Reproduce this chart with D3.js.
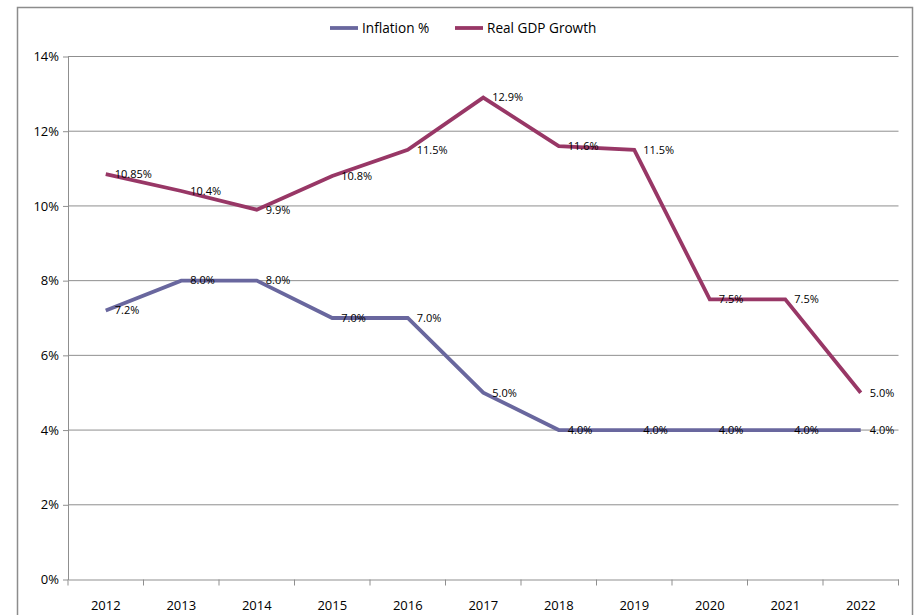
<!DOCTYPE html>
<html>
<head>
<meta charset="utf-8">
<script src="https://cdn.jsdelivr.net/npm/d3@7"></script>
<style>
  body { margin: 0; background: #fff; }
  text { font-family: "Open Sans", "Noto Sans", sans-serif; fill: #000; }
</style>
</head>
<body>
<svg id="chart"></svg>
<script>
;(() => {

    const years = ['2012','2013','2014','2015','2016','2017','2018','2019','2020','2021','2022'];
    const inflation = [7.2, 8.0, 8.0, 7.0, 7.0, 5.0, 4.0, 4.0, 4.0, 4.0, 4.0];
    const gdpGrowth = [10.85, 10.4, 9.9, 10.8, 11.5, 12.9, 11.6, 11.5, 7.5, 7.5, 5.0];
    const inflationLabels = ['7.2%','8.0%','8.0%','7.0%','7.0%','5.0%','4.0%','4.0%','4.0%','4.0%','4.0%'];
    const gdpLabels = ['10.85%','10.4%','9.9%','10.8%','11.5%','12.9%','11.6%','11.5%','7.5%','7.5%','5.0%'];
    const yTicks = [0, 2, 4, 6, 8, 10, 12, 14];

    const series = [
        { name: 'Inflation %', values: inflation, labels: inflationLabels, color: '#69679e' },
        { name: 'Real GDP Growth', values: gdpGrowth, labels: gdpLabels, color: '#983766' }
    ];

    const renderWidth = 915;
    const renderHeight = 615;
    const plot = { left: 68, right: 898.5, top: 56.5, bottom: 579.5 };

    const svg = d3.select('#chart')
        .attr('width', renderWidth)
        .attr('height', renderHeight);

    // outer chart frame (bottom edge runs off the picture)
    svg.append('rect')
        .attr('x', 17.5).attr('y', 7.5)
        .attr('width', 895).attr('height', 640)
        .attr('fill', 'none')
        .attr('stroke', '#8c8c8c')
        .attr('stroke-width', 1.5);

    const x = d3.scaleBand()
        .domain(years)
        .range([plot.left, plot.right]);

    const y = d3.scaleLinear()
        .domain([0, 14])
        .range([plot.bottom, plot.top]);

    // horizontal gridlines
    svg.append('g')
        .selectAll('line')
        .data(yTicks.filter(d => d > 0))
        .enter()
        .append('line')
        .attr('x1', plot.left).attr('x2', plot.right)
        .attr('y1', d => y(d)).attr('y2', d => y(d))
        .attr('stroke', '#8f8f8f')
        .attr('stroke-width', 1);

    // y axis
    const yAxis = svg.append('g')
        .attr('transform', `translate(${plot.left},0)`)
        .call(d3.axisLeft(y).tickValues(yTicks).tickFormat(d => d + '%').tickSize(5).tickSizeOuter(0));
    yAxis.select('.domain').attr('stroke', '#8f8f8f');
    yAxis.selectAll('.tick line').attr('stroke', '#8f8f8f');
    yAxis.selectAll('.tick text')
        .attr('x', -9)
        .style('font-size', '13px');

    // x axis, ticks at category boundaries
    const xAxis = svg.append('g')
        .attr('transform', `translate(0,${plot.bottom})`)
        .call(d3.axisBottom(x).tickSize(0).tickSizeOuter(0));
    xAxis.select('.domain').attr('stroke', '#8f8f8f');
    xAxis.selectAll('.tick text')
        .attr('dy', 0)
        .attr('y', 30)
        .style('font-size', '13px');
    xAxis.selectAll('.boundary')
        .data(years.concat(['end']))
        .enter()
        .append('line')
        .attr('class', 'boundary')
        .attr('x1', (d, i) => plot.left + i * x.step())
        .attr('x2', (d, i) => plot.left + i * x.step())
        .attr('y1', 0).attr('y2', 6)
        .attr('stroke', '#8f8f8f');

    const line = d3.line()
        .x((d, i) => x(years[i]) + x.bandwidth() / 2)
        .y(d => y(d));

    series.forEach((s) => {
        const g = svg.append('g').attr('class', 'series');

        g.append('path')
            .datum(s.values)
            .attr('d', line)
            .attr('fill', 'none')
            .attr('stroke', s.color)
            .attr('stroke-width', 3.8)
            .attr('stroke-linejoin', 'miter');

        g.selectAll('text')
            .data(s.values)
            .enter()
            .append('text')
            .attr('x', (d, i) => x(years[i]) + x.bandwidth() / 2 + 9)
            .attr('y', d => y(d))
            .attr('dy', '0.35em')
            .style('font-size', '11px')
            .text((d, i) => s.labels[i]);
    });

    // legend
    const legendPos = [330, 455];
    const legend = svg.append('g').attr('class', 'legend');
    series.forEach((s, i) => {
        legend.append('line')
            .attr('x1', legendPos[i]).attr('x2', legendPos[i] + 28)
            .attr('y1', 28).attr('y2', 28)
            .attr('stroke', s.color)
            .attr('stroke-width', 3.8);
        legend.append('text')
            .attr('x', legendPos[i] + 32)
            .attr('y', 28)
            .attr('dy', '0.35em')
            .style('font-size', '13.6px')
            .text(s.name);
    });

})();
</script>
</body>
</html>
